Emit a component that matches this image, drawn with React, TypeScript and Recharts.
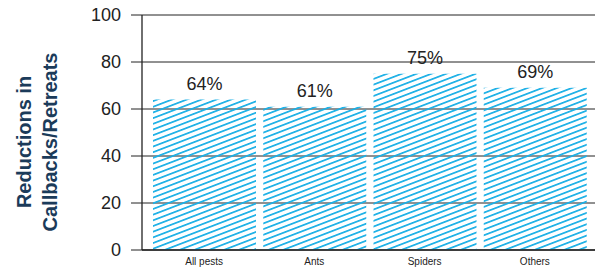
import { BarChart, Bar, XAxis, YAxis, CartesianGrid, LabelList } from "recharts";

const categories = ["All pests", "Ants", "Spiders", "Others"];
const reductions = [64, 61, 75, 69];
const yTicks = [0, 20, 40, 60, 80, 100];

const data = categories.map((name, i) => ({ name, value: reductions[i] }));

const FONT = "'Liberation Sans', Arial, Helvetica, sans-serif";

export default function App() {
  return (
    <div style={{ width: 598, height: 274, position: "relative", fontFamily: FONT }}>
      <style>{`body{margin:0}`}</style>
      <BarChart
        width={598}
        height={274}
        data={data}
        margin={{ top: 15, right: 3, bottom: 0, left: 0 }}
      >
        <defs>
          <pattern
            id="hatch"
            patternUnits="userSpaceOnUse"
            width="8"
            height="5.3"
            patternTransform="rotate(-21)"
          >
            <rect x="0" y="0" width="8" height="1.7" fill="#1AAFE6" />
          </pattern>
        </defs>
        <CartesianGrid vertical={false} stroke="#222" strokeWidth={1} />
        <XAxis
          dataKey="name"
          height={24}
          padding={{ left: 7, right: 5 }}
          axisLine={{ stroke: "#222", strokeWidth: 1.3 }}
          tickLine={false}
          tickMargin={2}
          tick={{ fontSize: 10, fill: "#222", fontFamily: FONT }}
        />
        <YAxis
          width={142}
          domain={[0, 100]}
          ticks={yTicks}
          interval={0}
          axisLine={{ stroke: "#222", strokeWidth: 1.3 }}
          tickLine={{ stroke: "#222" }}
          tickSize={11}
          tickMargin={10}
          tick={{ fontSize: 18, fill: "#222", fontFamily: FONT }}
        />
        <Bar dataKey="value" barSize={103} fill="url(#hatch)" isAnimationActive={false}>
          <LabelList
            dataKey="value"
            position="top"
            offset={10}
            formatter={(v: any) => `${v}%`}
            style={{ fontSize: 18, fill: "#222", fontFamily: FONT }}
          />
        </Bar>
      </BarChart>
      <div
        style={{
          position: "absolute",
          left: 37,
          top: 142,
          transform: "translate(-50%, -50%) rotate(-90deg)",
          whiteSpace: "nowrap",
          textAlign: "center",
          fontSize: 20,
          fontWeight: "bold",
          lineHeight: "26px",
          color: "#1B3B5A",
          fontFamily: FONT,
        }}
      >
        Reductions in
        <br />
        Callbacks/Retreats
      </div>
    </div>
  );
}
